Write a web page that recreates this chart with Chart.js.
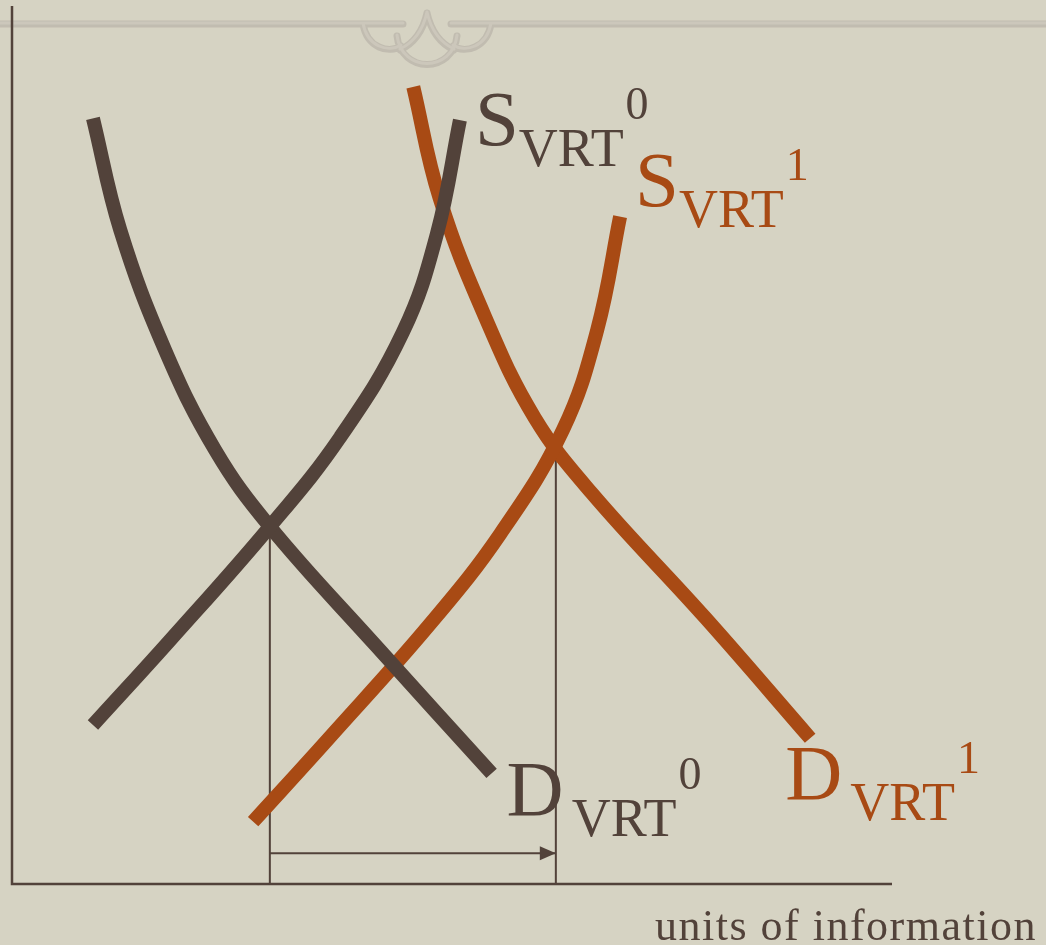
<!DOCTYPE html>
<html>
<head>
<meta charset="utf-8">
<title>VRT supply and demand</title>
<script src="https://cdn.jsdelivr.net/npm/chart.js@4/dist/chart.umd.min.js"></script>
<style>
  html, body { margin: 0; padding: 0; background: #d6d3c3; }
  #wrap { width: 1046px; height: 945px; position: relative; }
</style>
</head>
<body>
<div id="wrap"><canvas id="vrtChart"></canvas></div>
<script>
// curve points: quantity (x) and price (y), both on a 0-100 scale
const supply0X = [9.2, 18.0, 29.3, 37.3, 44.4, 48.3, 50.9];
const supply0Y = [18.1, 27.8, 40.7, 50.9, 62.8, 74.1, 87.0];

const demand0X = [9.2, 12.3, 17.4, 23.1, 29.3, 41.3, 54.5];
const demand0Y = [87.2, 74.5, 60.8, 49.4, 40.7, 27.2, 12.6];

const supply1X = [27.4, 36.1, 47.5, 55.5, 62.6, 66.5, 69.1];
const supply1Y = [7.1, 16.7, 29.6, 39.9, 51.7, 63.1, 76.0];

const demand1X = [45.6, 48.6, 53.8, 59.4, 65.9, 78.8, 90.7];
const demand1Y = [90.8, 78.1, 64.5, 53.1, 44.5, 30.3, 16.6];

// equilibrium quantities / prices before and after the shift
const eqQuantity = [29.3, 61.8];
const eqPrice = [40.7, 50.3];
const arrowLevel = 3.5;

const axisMax = 100;

const BROWN = '#52423a';
const ORANGE = '#a84a14';
const SERIF = '"Liberation Serif", "DejaVu Serif", serif';

function toPoints(xs, ys) {
    return xs.map((x, i) => ({ x: x, y: ys[i] }));
}

function curve(label, xs, ys, color) {
    return {
        label: label,
        data: toPoints(xs, ys),
        borderColor: color,
        borderWidth: 14,
        tension: 0.4,
        borderCapStyle: 'butt',
        pointRadius: 0,
        clip: false
    };
}

function rule(label, pts, width) {
    return {
        label: label,
        data: pts,
        borderColor: BROWN,
        borderWidth: width,
        pointRadius: 0,
        clip: false
    };
}

// text labels: main letter, subscript, superscript, anchored to a curve's last point
const curveLabels = [
    { ds: 0, main: 'S', sup: '0', color: BROWN, dx: 15, dy: 25 },
    { ds: 2, main: 'S', sup: '1', color: ORANGE, dx: 15, dy: -11 },
    { ds: 1, main: 'D', sup: '0', color: BROWN, dx: 15, dy: 42 },
    { ds: 3, main: 'D', sup: '1', color: ORANGE, dx: -25, dy: 61 }
];

const backdrop = {
    id: 'backdrop',
    beforeDraw(chart) {
        const ctx = chart.ctx;
        const w = chart.width;
        const cx = 427;
        ctx.save();
        ctx.fillStyle = '#d6d3c3';
        ctx.fillRect(0, 0, w, chart.height);

        // header rule with the little ornament
        const drawOrnament = (color, lw, oy) => {
            ctx.strokeStyle = color;
            ctx.lineWidth = lw;
            ctx.lineCap = 'round';
            ctx.beginPath();
            ctx.moveTo(0, 24 + oy); ctx.lineTo(cx - 24, 24 + oy);
            ctx.moveTo(w, 24 + oy); ctx.lineTo(cx + 24, 24 + oy);
            // side swags
            ctx.moveTo(cx - 64, 24 + oy);
            ctx.bezierCurveTo(cx - 60, 48 + oy, cx - 38, 54 + oy, cx - 26, 46 + oy);
            ctx.moveTo(cx + 64, 24 + oy);
            ctx.bezierCurveTo(cx + 60, 48 + oy, cx + 38, 54 + oy, cx + 26, 46 + oy);
            // lower loop
            ctx.moveTo(cx - 30, 36 + oy);
            ctx.bezierCurveTo(cx - 26, 74 + oy, cx + 26, 74 + oy, cx + 30, 36 + oy);
            // pointed arch
            ctx.moveTo(cx - 27, 50 + oy);
            ctx.quadraticCurveTo(cx - 6, 40 + oy, cx, 13 + oy);
            ctx.moveTo(cx + 27, 50 + oy);
            ctx.quadraticCurveTo(cx + 6, 40 + oy, cx, 13 + oy);
            ctx.stroke();
        };
        drawOrnament('#c1bcb0', 7, 0);
        drawOrnament('#ccc7bb', 3, -1);
        ctx.restore();
    }
};

const annotations = {
    id: 'annotations',
    afterDatasetsDraw(chart) {
        const ctx = chart.ctx;
        ctx.save();

        // arrowhead on the quantity-shift arrow
        const arrowMeta = chart.getDatasetMeta(6);
        const tip = arrowMeta.data[1];
        ctx.fillStyle = BROWN;
        ctx.beginPath();
        ctx.moveTo(tip.x, tip.y);
        ctx.lineTo(tip.x - 16, tip.y - 7);
        ctx.lineTo(tip.x - 16, tip.y + 7);
        ctx.closePath();
        ctx.fill();

        ctx.textBaseline = 'alphabetic';
        ctx.textAlign = 'left';
        curveLabels.forEach(l => {
            const pts = chart.getDatasetMeta(l.ds).data;
            const end = pts[pts.length - 1];
            const x = end.x + l.dx;
            const y = end.y + l.dy;
            ctx.fillStyle = l.color;
            ctx.font = '79px ' + SERIF;
            ctx.fillText(l.main, x, y);
            const mw = ctx.measureText(l.main).width + (l.main === 'D' ? 8 : 0);
            ctx.font = '54px ' + SERIF;
            ctx.fillText('VRT', x + mw, y + 21);
            const sw = ctx.measureText('VRT').width;
            ctx.font = '46px ' + SERIF;
            ctx.fillText(l.sup, x + mw + sw + 2, y - 26);
        });

        ctx.fillStyle = BROWN;
        ctx.font = '44px ' + SERIF;
        ctx.letterSpacing = '1.5px';
        ctx.fillText('units of information', 655, 940);
        ctx.restore();
    }
};

const ctx = document.getElementById('vrtChart').getContext('2d');
new Chart(ctx, {
    type: 'scatter',
    data: {
        datasets: [
            curve('S VRT 0', supply0X, supply0Y, BROWN),
            curve('D VRT 0', demand0X, demand0Y, BROWN),
            curve('S VRT 1', supply1X, supply1Y, ORANGE),
            curve('D VRT 1', demand1X, demand1Y, ORANGE),
            rule('q0', [{ x: eqQuantity[0], y: eqPrice[0] }, { x: eqQuantity[0], y: 0 }], 2),
            rule('q1', [{ x: eqQuantity[1], y: eqPrice[1] }, { x: eqQuantity[1], y: 0 }], 2),
            rule('shift', [{ x: eqQuantity[0], y: arrowLevel }, { x: eqQuantity[1], y: arrowLevel }], 2),
            rule('axes', [{ x: 0, y: axisMax }, { x: 0, y: 0 }, { x: axisMax, y: 0 }], 2.5)
        ].map(d => Object.assign(d, { showLine: true }))
    },
    options: {
        responsive: true,
        maintainAspectRatio: false,
        animation: false,
        layout: { padding: { left: 12, right: 154, top: 6, bottom: 61 } },
        plugins: {
            legend: { display: false },
            tooltip: { enabled: false }
        },
        scales: {
            x: { type: 'linear', min: 0, max: axisMax, display: false },
            y: { type: 'linear', min: 0, max: axisMax, display: false }
        }
    },
    plugins: [backdrop, annotations]
});
</script>
</body>
</html>
